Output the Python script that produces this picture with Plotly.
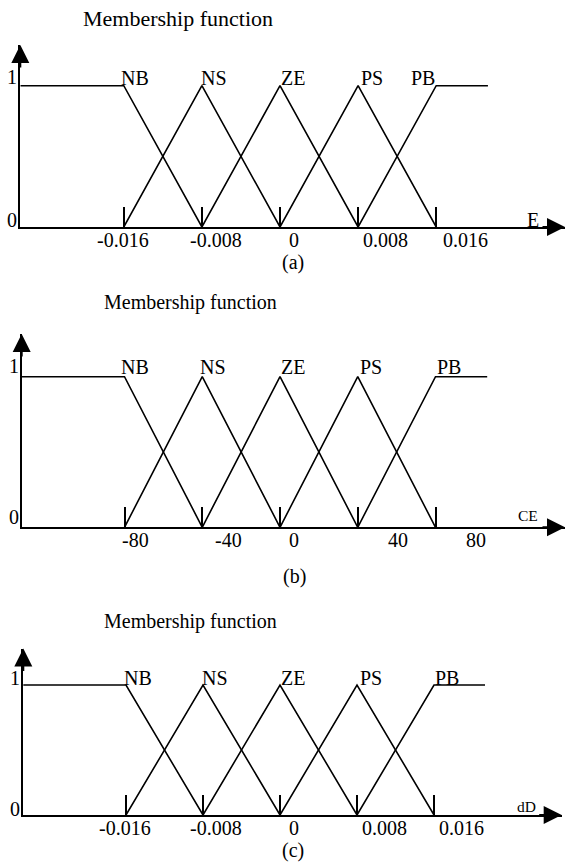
import plotly.graph_objects as go

W, H = 565, 862
FONT = "Liberation Serif, Times New Roman, serif"

# fuzzy sets, same names in every panel
set_names = ["NB", "NS", "ZE", "PS", "PB"]

# (a) error E
e_peaks = [-0.016, -0.008, 0, 0.008, 0.016]
e_ticks = ["-0.016", "-0.008", "0", "0.008", "0.016"]
e_ends = [-0.0266, 0.0213]   # left shoulder starts at the axis, right shoulder stops here

# (b) change of error CE
ce_peaks = [-80, -40, 0, 40, 80]
ce_ticks = ["-80", "-40", "0", "40", "80"]
ce_ends = [-132.9, 106.6]

# (c) duty change dD
dd_peaks = [-0.016, -0.008, 0, 0.008, 0.016]
dd_ticks = ["-0.016", "-0.008", "0", "0.008", "0.016"]
dd_ends = [-0.0267, 0.0213]

# pixel geometry of each panel as it sits on the page
panels = [
    dict(peaks=e_peaks, ticks=e_ticks, ends=e_ends, var="E", tag="(a)",
         left=20.3, tip=565, zero=280, step=78.1, base=227, one=85.7, top=45,
         title=(178, 18.3, 22), tag_at=(292.6, 263), var_at=(533, 220, 20),
         name_dx=[11, 12, 12.6, 14, -13.7], name_dy=8,
         tick_dx=[-1, 13.7, 14.4, 27.8, 29], ylab_dy=[7, 9]),
    dict(peaks=ce_peaks, ticks=ce_ticks, ends=ce_ends, var="CE", tag="(b)",
         left=21.7, tip=565, zero=280, step=77.75, base=527.3, one=376.7, top=334,
         title=(190, 302.7, 20), tag_at=(294, 576.7), var_at=(528, 515, 15.5),
         name_dx=[10.7, 11.2, 12.6, 13, 13.3], name_dy=10,
         tick_dx=[10.7, 26.3, 13.7, 40.4, 40.4], ylab_dy=[10, 11]),
    dict(peaks=dd_peaks, ticks=dd_ticks, ends=dd_ends, var="dD", tag="(c)",
         left=23.3, tip=561.7, zero=280, step=77, base=815, one=685, top=648.5,
         title=(190, 621.7, 20), tag_at=(293, 850), var_at=(526.7, 806.7, 15.5),
         name_dx=[11.6, 12, 12.6, 13.7, 13.3], name_dy=7,
         tick_dx=[-1.1, 12.6, 13.7, 27, 27], ylab_dy=[6, 7]),
]


def membership(peaks, ends):
    """Triangles in the middle, shoulders at both ends."""
    shapes = []
    n = len(peaks)
    for i in range(n):
        if i == 0:
            xs, ys = [ends[0], peaks[0], peaks[1]], [1, 1, 0]
        elif i == n - 1:
            xs, ys = [peaks[i - 1], peaks[i], ends[1]], [0, 1, 1]
        else:
            xs, ys = [peaks[i - 1], peaks[i], peaks[i + 1]], [0, 1, 0]
        shapes.append((xs, ys))
    return shapes


def txt(size):
    return dict(family=FONT, size=size, color="black")


fig = go.Figure()
annotations = []

for k, p in enumerate(panels):
    sfx = "" if k == 0 else str(k + 1)
    xref, yref = "x" + sfx, "y" + sfx

    for xs, ys in membership(p["peaks"], p["ends"]):
        fig.add_trace(go.Scatter(x=xs, y=ys, mode="lines", xaxis=xref, yaxis=yref,
                                 line=dict(color="black", width=1.6),
                                 showlegend=False, hoverinfo="skip"))

    unit = p["peaks"][3] - p["peaks"][2]
    x_range = [(p["left"] - p["zero"]) / p["step"] * unit,
               (p["tip"] - p["zero"]) / p["step"] * unit]
    y_top = (p["base"] - p["top"]) / (p["base"] - p["one"])

    fig.update_layout(**{
        "xaxis" + sfx: dict(
            domain=[p["left"] / W, min(p["tip"] / W, 1)], range=x_range, anchor=yref,
            showgrid=False, zeroline=False, showline=True, linecolor="black", linewidth=2,
            ticks="inside", tickvals=p["peaks"], ticklen=20, tickwidth=2,
            tickcolor="black", showticklabels=False, fixedrange=True),
        "yaxis" + sfx: dict(
            domain=[1 - p["base"] / H, 1 - p["top"] / H], range=[0, y_top], anchor=xref,
            showgrid=False, zeroline=False, showline=True, linecolor="black", linewidth=2,
            showticklabels=False, ticks="", fixedrange=True),
    })

    # 0 and 1 on the membership axis
    for v, dy in zip([0, 1], p["ylab_dy"]):
        annotations.append(dict(x=0, y=v, xref=xref + " domain", yref=yref, text=str(v),
                                showarrow=False, xanchor="right", yanchor="middle",
                                xshift=-1, yshift=dy, font=txt(20)))
    # set names above the peaks
    for name, x, dx in zip(set_names, p["peaks"], p["name_dx"]):
        annotations.append(dict(x=x, y=1, xref=xref, yref=yref, text=name, showarrow=False,
                                xshift=dx, yshift=p["name_dy"], yanchor="middle",
                                font=txt(20)))
    # tick labels under the axis
    for lab, x, dx in zip(p["ticks"], p["peaks"], p["tick_dx"]):
        annotations.append(dict(x=x, y=0, xref=xref, yref=yref, text=lab, showarrow=False,
                                xshift=dx, yshift=-13, yanchor="middle", font=txt(20)))
    # axis arrow heads
    annotations.append(dict(x=1, y=0, xref=xref + " domain", yref=yref + " domain",
                            ax=-24, ay=0, showarrow=True, arrowhead=2, arrowsize=1.8,
                            arrowwidth=2, arrowcolor="black", text=""))
    annotations.append(dict(x=0, y=1, xref=xref + " domain", yref=yref + " domain",
                            ax=0, ay=24, showarrow=True, arrowhead=2, arrowsize=1.8,
                            arrowwidth=2, arrowcolor="black", text=""))
    # variable name, panel title and tag
    vx, vy, vs = p["var_at"]
    annotations.append(dict(x=vx / W, y=1 - vy / H, xref="paper", yref="paper",
                            text=p["var"], showarrow=False, xanchor="center", yanchor="middle",
                            font=txt(vs)))
    tx, ty, ts = p["title"]
    annotations.append(dict(x=tx / W, y=1 - ty / H, xref="paper", yref="paper",
                            text="Membership function", showarrow=False,
                            xanchor="center", yanchor="middle", font=txt(ts)))
    gx, gy = p["tag_at"]
    annotations.append(dict(x=gx / W, y=1 - gy / H, xref="paper", yref="paper",
                            text=p["tag"], showarrow=False, xanchor="center", yanchor="middle",
                            font=txt(20)))

fig.update_layout(
    width=W, height=H,
    margin=dict(l=0, r=0, t=0, b=0),
    paper_bgcolor="white", plot_bgcolor="white",
    font=dict(family=FONT, color="black"),
    annotations=annotations,
    showlegend=False,
)

# drop the browser's default body margin so the figure fills the window exactly
fig.write_html("out.html", config={"displayModeBar": False},
               post_script="document.body.style.margin='0';")
